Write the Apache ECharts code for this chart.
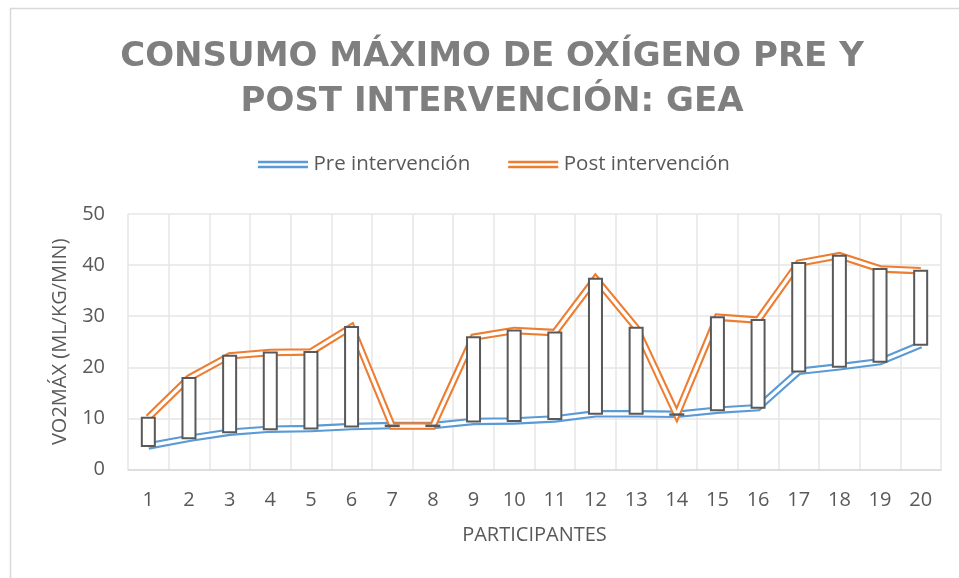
<!DOCTYPE html>
<html>
<head>
<meta charset="utf-8">
<script src="https://cdn.jsdelivr.net/npm/echarts@6/dist/echarts.min.js"></script>
<style>
  html, body { margin: 0; padding: 0; background: #ffffff; }
  #chart { width: 959px; height: 578px; }
</style>
</head>
<body>
<div id="chart"></div>
<script>
// ---- Data ----
const participants = ['1','2','3','4','5','6','7','8','9','10','11','12','13','14','15','16','17','18','19','20'];
const preIntervencion  = [4.6, 6.1, 7.3, 7.9, 8.0, 8.4, 8.6, 8.6, 9.4, 9.5, 9.9, 10.9, 10.9, 10.8, 11.6, 12.1, 19.2, 20.1, 21.1, 24.4];
const postIntervencion = [10.15, 17.9, 22.25, 22.9, 23.0, 27.9, 8.5, 8.5, 25.9, 27.2, 26.8, 37.35, 27.75, 10.7, 29.8, 29.25, 40.4, 41.85, 39.25, 38.9];
const yTicks = { min: 0, max: 50, interval: 10 };

const titleText = 'CONSUMO MÁXIMO DE OXÍGENO PRE Y\nPOST INTERVENCIÓN: GEA';
const seriesNames = ['Pre intervención', 'Post intervención'];
const yName = 'VO2MÁX (ML/KG/MIN)';
const xName = 'PARTICIPANTES';

const BLUE = '#5b9bd5';
const ORANGE = '#ed7d31';
const TEXT = '#595959';
const GRID = '#e6e6e6';

const updown = participants.map((c, i) => [i, preIntervencion[i], postIntervencion[i]]);

const chart = echarts.init(document.getElementById('chart'), null, { renderer: 'canvas' });

function doubleLine(name, data, color, z) {
  return [
    {
      name: name, type: 'line', data: data, z: z,
      symbol: 'none', silent: true, animation: false,
      lineStyle: { color: color, width: 7.5, join: 'miter', miterLimit: 10 },
      itemStyle: { color: color }
    },
    {
      name: name + ' (centro)', type: 'line', data: data, z: z + 0.1,
      symbol: 'none', silent: true, animation: false,
      lineStyle: { color: '#ffffff', width: 3.3, join: 'miter', miterLimit: 10 },
      itemStyle: { color: '#ffffff' }
    }
  ];
}

const legendIcon = 'path://M0,0H50V2.5H0Z M0,5H50V7.5H0Z';

chart.setOption({
  animation: false,
  backgroundColor: '#ffffff',
  title: {
    text: titleText,
    left: 487,
    textAlign: 'center',
    top: 30,
    textStyle: {
      fontFamily: 'DejaVu Sans',
      fontWeight: 'bold',
      fontSize: 34,
      lineHeight: 45,
      color: '#7f7f7f'
    }
  },
  graphic: [{
    type: 'rect', silent: true, z: -10,
    shape: { x: 10.5, y: 8.5, width: 1000, height: 1000 },
    style: { fill: null, stroke: '#d9d9d9', lineWidth: 1.5 }
  }],
  legend: {
    data: seriesNames.map(n => ({ name: n, icon: legendIcon })),
    left: 253,
    top: 149,
    itemWidth: 51,
    itemHeight: 7.5,
    itemGap: 38,
    textStyle: { fontFamily: 'Open Sans', fontSize: 20.5, color: TEXT }
  },
  grid: { left: 128, right: 18, top: 214, bottom: 108.5, containLabel: false },
  xAxis: {
    type: 'category',
    data: participants,
    boundaryGap: true,
    name: xName,
    nameLocation: 'middle',
    nameGap: 56,
    nameTextStyle: { fontFamily: 'Open Sans', fontSize: 20, color: TEXT },
    axisLine: { lineStyle: { color: '#d9d9d9', width: 1.5 } },
    axisTick: { show: false },
    axisLabel: { fontFamily: 'Open Sans', fontSize: 20, color: TEXT, margin: 21 },
    splitLine: { show: true, lineStyle: { color: GRID, width: 1.5 } }
  },
  yAxis: {
    type: 'value',
    min: yTicks.min, max: yTicks.max, interval: yTicks.interval,
    name: yName,
    nameLocation: 'middle',
    nameGap: 58,
    nameTextStyle: { fontFamily: 'Open Sans', fontSize: 20, color: TEXT },
    axisLine: { show: false },
    axisTick: { show: false },
    axisLabel: { fontFamily: 'Open Sans', fontSize: 20, color: TEXT, margin: 23 },
    splitLine: { show: true, lineStyle: { color: GRID, width: 1.5 } }
  },
  series: [
    ...doubleLine(seriesNames[0], preIntervencion, BLUE, 2),
    ...doubleLine(seriesNames[1], postIntervencion, ORANGE, 3),
    {
      name: 'Barras', type: 'custom', z: 5, silent: true,
      data: updown,
      encode: { x: 0, y: [1, 2] },
      renderItem: function (params, api) {
        const x = api.value(0);
        const pre = api.value(1);
        const post = api.value(2);
        const p1 = api.coord([x, pre]);
        const p2 = api.coord([x, post]);
        const w = 13;
        const top = Math.min(p1[1], p2[1]);
        const h = Math.abs(p1[1] - p2[1]);
        const down = post < pre;
        return {
          type: 'rect',
          shape: { x: p1[0] - w / 2, y: top, width: w, height: h },
          style: { fill: down ? '#595959' : '#ffffff', stroke: '#595959', lineWidth: 2 }
        };
      }
    }
  ]
});
</script>
</body>
</html>
